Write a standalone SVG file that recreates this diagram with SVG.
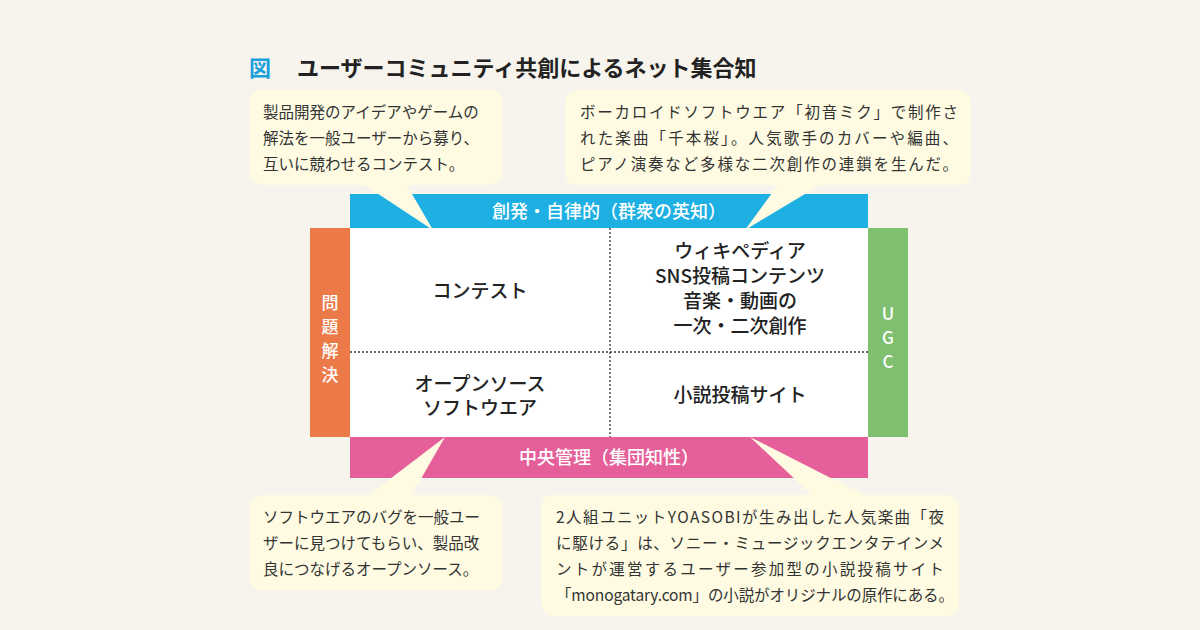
<svg xmlns="http://www.w3.org/2000/svg" width="1200" height="630" viewBox="0 0 1200 630">
<style>
text{font-family:"Noto Sans CJK JP","Noto Sans",sans-serif}
.b{fill:#fefbe2}
.t{font-size:15.5px;fill:#333}
.c{font-size:19px;fill:#222;font-weight:500;text-anchor:middle}
.w{font-size:18px;fill:#fff;font-weight:500;text-anchor:middle}
.v{font-size:17px;fill:#fff;font-weight:500;text-anchor:middle}
.d{stroke:#333;stroke-width:1.3;stroke-dasharray:2 2;fill:none}
</style>
<rect width="1200" height="630" fill="#f6f4ed"/>
<g id="title">
<text x="249" y="76" font-size="22" font-weight="bold" fill="#1aa0dc">図</text>
<text x="297" y="76" font-size="22" font-weight="bold" fill="#222">ユーザーコミュニティ共創によるネット集合知</text>
</g>
<g id="table">
<rect x="350" y="228" width="518" height="209" fill="#fff"/>
</g>
<g id="connectors">
<line class="d" x1="610" y1="228" x2="610" y2="437"/>
<line class="d" x1="350" y1="352" x2="868" y2="352"/>
</g>
<g id="top-band"><rect x="350" y="194" width="518" height="34" fill="#1eb0e2"/><text class="w" x="609" y="218">創発・自律的（群衆の英知）</text></g>
<g id="bottom-band"><rect x="350" y="437" width="518" height="41" fill="#e5609a"/><text class="w" x="609" y="464">中央管理（集団知性）</text></g>
<g id="left-bar"><rect x="310" y="228" width="40" height="209" fill="#ec7a49"/>
<text class="v" x="330" y="309">問</text><text class="v" x="330" y="333">題</text><text class="v" x="330" y="357">解</text><text class="v" x="330" y="381">決</text></g>
<g id="right-bar"><rect x="868" y="228" width="40" height="209" fill="#7ec06f"/>
<text class="v" x="888" y="320">U</text><text class="v" x="888" y="344">G</text><text class="v" x="888" y="368">C</text></g>
<g id="cell-tl"><text class="c" x="480" y="298">コンテスト</text></g>
<g id="cell-tr"><text class="c" x="740" y="258">ウィキペディア</text><text class="c" x="740" y="283">SNS投稿コンテンツ</text><text class="c" x="740" y="308">音楽・動画の</text><text class="c" x="740" y="333">一次・二次創作</text></g>
<g id="cell-bl"><text class="c" x="480" y="391">オープンソース</text><text class="c" x="480" y="415">ソフトウエア</text></g>
<g id="cell-br"><text class="c" x="740" y="402">小説投稿サイト</text></g>
<g id="callout-tl"><rect class="b" x="250" y="90" width="252" height="95" rx="12"/><polygon class="b" points="360,182 405,182 433,230"/>
<text class="t" x="263" y="118">製品開発のアイデアやゲームの</text><text class="t" x="263" y="144">解法を一般ユーザーから募り、</text><text class="t" x="263" y="170">互いに競わせるコンテスト。</text></g>
<g id="callout-tr"><rect class="b" x="565" y="90" width="406" height="95" rx="12"/><polygon class="b" points="780,182 825,182 745,230"/>
<text class="t" x="580" y="118" textLength="378">ボーカロイドソフトウエア「初音ミク」で制作さ</text><text class="t" x="580" y="144" textLength="378">れた楽曲「千本桜」。人気歌手のカバーや編曲、</text><text class="t" x="580" y="170" textLength="378">ピアノ演奏など多様な二次創作の連鎖を生んだ。</text></g>
<g id="callout-bl"><rect class="b" x="250" y="495" width="252" height="95" rx="12"/><polygon class="b" points="365,498 410,498 445,437"/>
<text class="t" x="263" y="523">ソフトウエアのバグを一般ユー</text><text class="t" x="263" y="549">ザーに見つけてもらい、製品改</text><text class="t" x="263" y="575">良につなげるオープンソース。</text></g>
<g id="callout-br"><rect class="b" x="541" y="495" width="418" height="121" rx="12"/><polygon class="b" points="815,498 870,498 750,437"/>
<text class="t" x="556" y="523" textLength="388">2人組ユニットYOASOBIが生み出した人気楽曲「夜</text><text class="t" x="556" y="549" textLength="388">に駆ける」は、ソニー・ミュージックエンタテインメ</text><text class="t" x="556" y="575" textLength="388">ントが運営するユーザー参加型の小説投稿サイト</text><text class="t" x="556" y="601" textLength="398">「monogatary.com」の小説がオリジナルの原作にある。</text></g>
</svg>
